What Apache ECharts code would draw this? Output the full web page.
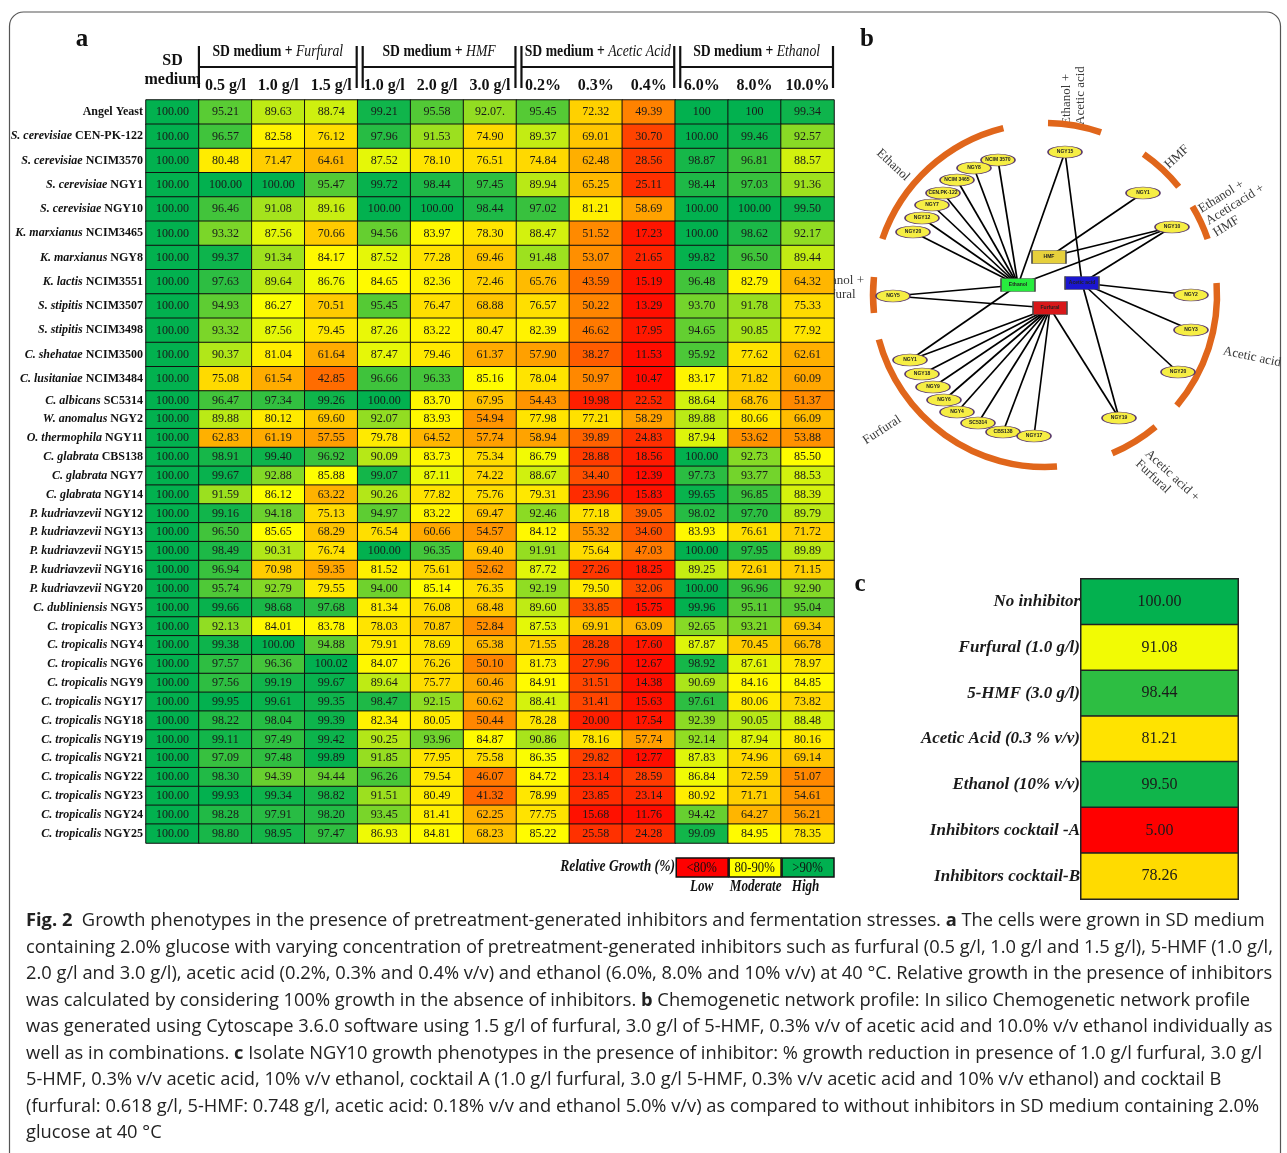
<!DOCTYPE html>
<html><head><meta charset="utf-8">
<script src="https://cdn.jsdelivr.net/npm/echarts@6/dist/echarts.min.js"></script>
<style>html,body{margin:0;padding:0;background:#fff}#main{width:1287px;height:1153px}</style>
</head><body><div id="main"></div>
<script>
// ---------------- DATA : panel a ----------------
const conditionLabels = ['SD medium','0.5 g/l','1.0 g/l','1.5 g/l','1.0 g/l','2.0 g/l','3.0 g/l','0.2%','0.3%','0.4%','6.0%','8.0%','10.0%'];
const groupTitles = ['Furfural','HMF','Acetic Acid','Ethanol'];
const groupSpans = [[1,3],[4,6],[7,9],[10,12]];
const rowSpecies = ['','S. cerevisiae','S. cerevisiae','S. cerevisiae','S. cerevisiae','K. marxianus','K. marxianus','K. lactis','S. stipitis','S. stipitis','C. shehatae','C. lusitaniae','C. albicans','W. anomalus','O. thermophila','C. glabrata','C. glabrata','C. glabrata','P. kudriavzevii','P. kudriavzevii','P. kudriavzevii','P. kudriavzevii','P. kudriavzevii','C. dubliniensis','C. tropicalis','C. tropicalis','C. tropicalis','C. tropicalis','C. tropicalis','C. tropicalis','C. tropicalis','C. tropicalis','C. tropicalis','C. tropicalis','C. tropicalis','C. tropicalis'];
const rowStrains = ['Angel Yeast','CEN-PK-122','NCIM3570','NGY1','NGY10','NCIM3465','NGY8','NCIM3551','NCIM3507','NCIM3498','NCIM3500','NCIM3484','SC5314','NGY2','NGY11','CBS138','NGY7','NGY14','NGY12','NGY13','NGY15','NGY16','NGY20','NGY5','NGY3','NGY4','NGY6','NGY9','NGY17','NGY18','NGY19','NGY21','NGY22','NGY23','NGY24','NGY25'];
const sdMedium   = [100,100,100,100,100,100,100,100,100,100,100,100,100,100,100,100,100,100,100,100,100,100,100,100,100,100,100,100,100,100,100,100,100,100,100,100];
const furfural05 = [95.21,96.57,80.48,100.00,96.46,93.32,99.37,97.63,94.93,93.32,90.37,75.08,96.47,89.88,62.83,98.91,99.67,91.59,99.16,96.50,98.49,96.94,95.74,99.66,92.13,99.38,97.57,97.56,99.95,98.22,99.11,97.09,98.30,99.93,98.28,98.80];
const furfural10 = [89.63,82.58,71.47,100.00,91.08,87.56,91.34,89.64,86.27,87.56,81.04,61.54,97.34,80.12,61.19,99.40,92.88,86.12,94.18,85.65,90.31,70.98,92.79,98.68,84.01,100.00,96.36,99.19,99.61,98.04,97.49,97.48,94.39,99.34,97.91,98.95];
const furfural15 = [88.74,76.12,64.61,95.47,89.16,70.66,84.17,86.76,70.51,79.45,61.64,42.85,99.26,69.60,57.55,96.92,85.88,63.22,75.13,68.29,76.74,59.35,79.55,97.68,83.78,94.88,100.02,99.67,99.35,99.39,99.42,99.89,94.44,98.82,98.20,97.47];
const hmf10      = [99.21,97.96,87.52,99.72,100.00,94.56,87.52,84.65,95.45,87.26,87.47,96.66,100.00,92.07,79.78,90.09,99.07,90.26,94.97,76.54,100.00,81.52,94.00,81.34,78.03,79.91,84.07,89.64,98.47,82.34,90.25,91.85,96.26,91.51,93.45,86.93];
const hmf20      = [95.58,91.53,78.10,98.44,100.00,83.97,77.28,82.36,76.47,83.22,79.46,96.33,83.70,83.93,64.52,83.73,87.11,77.82,83.22,60.66,96.35,75.61,85.14,76.08,70.87,78.69,76.26,75.77,92.15,80.05,93.96,77.95,79.54,80.49,81.41,84.81];
const hmf30      = [92.07,74.90,76.51,97.45,98.44,78.30,69.46,72.46,68.88,80.47,61.37,85.16,67.95,54.94,57.74,75.34,74.22,75.76,69.47,54.57,69.40,52.62,76.35,68.48,52.84,65.38,50.10,60.46,60.62,50.44,84.87,75.58,46.07,41.32,62.25,68.23];
const acetic02   = [95.45,89.37,74.84,89.94,97.02,88.47,91.48,65.76,76.57,82.39,57.90,78.04,54.43,77.98,58.94,86.79,88.67,79.31,92.46,84.12,91.91,87.72,92.19,89.60,87.53,71.55,81.73,84.91,88.41,78.28,90.86,86.35,84.72,78.99,77.75,85.22];
const acetic03   = [72.32,69.01,62.48,65.25,81.21,51.52,53.07,43.59,50.22,46.62,38.27,50.97,19.98,77.21,39.89,28.88,34.40,23.96,77.18,55.32,75.64,27.26,79.50,33.85,69.91,28.28,27.96,31.51,31.41,20.00,78.16,29.82,23.14,23.85,15.68,25.58];
const acetic04   = [49.39,30.70,28.56,25.11,58.69,17.23,21.65,15.19,13.29,17.95,11.53,10.47,22.52,58.29,24.83,18.56,12.39,15.83,39.05,34.60,47.03,18.25,32.06,15.75,63.09,17.60,12.67,14.38,15.63,17.54,57.74,12.77,28.59,23.14,11.76,24.28];
const ethanol6   = [100,100.00,98.87,98.44,100.00,100.00,99.82,96.48,93.70,94.65,95.92,83.17,88.64,89.88,87.94,100.00,97.73,99.65,98.02,83.93,100.00,89.25,100.00,99.96,92.65,87.87,98.92,90.69,97.61,92.39,92.14,87.83,86.84,80.92,94.42,99.09];
const ethanol8   = [100,99.46,96.81,97.03,100.00,98.62,96.50,82.79,91.78,90.85,77.62,71.82,68.76,80.66,53.62,92.73,93.77,96.85,97.70,76.61,97.95,72.61,96.96,95.11,93.21,70.45,87.61,84.16,80.06,90.05,87.94,74.96,72.59,71.71,64.27,84.95];
const ethanol10  = [99.34,92.57,88.57,91.36,99.50,92.17,89.44,64.32,75.33,77.92,62.61,60.09,51.37,66.09,53.88,85.50,88.53,88.39,89.79,71.72,89.89,71.15,92.90,95.04,69.34,66.78,78.97,84.85,73.82,88.48,80.16,69.14,51.07,54.61,56.21,78.35];
// cells printed differently in the original table: [row, column, text]
const printedAs = [[0,6,'92.07.'],[0,10,'100'],[0,11,'100']];
const legendClasses = ['<80%','80-90%','>90%'];
const legendNames = ['Low','Moderate','High'];

// ---------------- DATA : panel b (network) ----------------
const nodeLabels = ['Ethanol','Acetic acid','Furfural','HMF','NCIM 3570','NGY8','NCIM 3465','CEN.PK-122','NGY7','NGY12','NGY20','NGY15','NGY1','NGY10','NGY5','NGY2','NGY3','NGY20','NGY19','NGY1','NGY18','NGY9','NGY6','NGY4','SC5314','CBS138','NGY17'];
const nodeX = [-27,37,5,4,-47,-71,-88,-102,-113,-123,-132,20,98,127,-152,146,146,133,74,-135,-123,-112,-101,-88,-67,-42,-11];
const nodeY = [10,12,-13,38,135,127,115,102,90,77,63,143,102,68,-1,0,-35,-77,-123,-65,-79,-92,-105,-117,-128,-137,-141];
const inhibitorColors = ['#27ec3e','#1b16d0','#d8181a','#e6d03c'];
const edges = [[0,4],[0,5],[0,6],[0,7],[0,8],[0,9],[0,10],[0,11],[0,13],[0,14],[0,19],
  [1,11],[1,13],[1,15],[1,16],[1,17],[1,18],
  [3,12],[3,13],
  [2,14],[2,18],[2,19],[2,20],[2,21],[2,22],[2,23],[2,24],[2,25],[2,26]];
const arcStartDeg = [104,71,39,19,-40,-67,195,174];
const arcEndDeg   = [161,89,55,31,4,-50,274,186];
const arcRadius = 172;
const arcLabels = ['Ethanol','Ethanol +\nAcetic acid','HMF','Ethanol +\nAceticacid +\nHMF','Acetic acid','Acetic acid +\nFurfural','Furfural','Ethanol +\nFurfural'];
const arcLabelX = [-152,29,132,162,207,97,-163,-232];
const arcLabelY = [130,170,138,73,-62,-162,-135,7];
const arcLabelRot = [-43,90,43,32,-12,-43,33,0];
const arcLabelAlign = ['center','left','center','left','center','left','center','left'];

// ---------------- DATA : panel c ----------------
const ngy10Conditions = ['No inhibitor','Furfural (1.0 g/l)','5-HMF (3.0 g/l)','Acetic Acid (0.3 % v/v)','Ethanol (10% v/v)','Inhibitors cocktail -A','Inhibitors cocktail-B'];
const ngy10Growth = [100.00,91.08,98.44,81.21,99.50,5.00,78.26];

// ---------------- caption ----------------
const captionLines = [
 '{b|Fig. 2}  Growth phenotypes in the presence of pretreatment-generated inhibitors and fermentation stresses. {b|a} The cells were grown in SD medium',
 'containing 2.0% glucose with varying concentration of pretreatment-generated inhibitors such as furfural (0.5 g/l, 1.0 g/l and 1.5 g/l), 5-HMF (1.0 g/l,',
 '2.0 g/l and 3.0 g/l), acetic acid (0.2%, 0.3% and 0.4% v/v) and ethanol (6.0%, 8.0% and 10% v/v) at 40 °C. Relative growth in the presence of inhibitors',
 'was calculated by considering 100% growth in the absence of inhibitors. {b|b} Chemogenetic network profile: In silico Chemogenetic network profile',
 'was generated using Cytoscape 3.6.0 software using 1.5 g/l of furfural, 3.0 g/l of 5-HMF, 0.3% v/v of acetic acid and 10.0% v/v ethanol individually as',
 'well as in combinations. {b|c} Isolate NGY10 growth phenotypes in the presence of inhibitor: % growth reduction in presence of 1.0 g/l furfural, 3.0 g/l',
 '5-HMF, 0.3% v/v acetic acid, 10% v/v ethanol, cocktail A (1.0 g/l furfural, 3.0 g/l 5-HMF, 0.3% v/v acetic acid and 10% v/v ethanol) and cocktail B',
 '(furfural: 0.618 g/l, 5-HMF: 0.748 g/l, acetic acid: 0.18% v/v and ethanol 5.0% v/v) as compared to without inhibitors in SD medium containing 2.0%',
 'glucose at 40 °C'
];

// ---------------- build ----------------
const SERIF = '"Liberation Serif","Times New Roman",serif';
const valueColumns = [sdMedium,furfural05,furfural10,furfural15,hmf10,hmf20,hmf30,acetic02,acetic03,acetic04,ethanol6,ethanol8,ethanol10];
function printed(r, c, v) {
  for (const p of printedAs) if (p[0] === r && p[1] === c) return p[2];
  return v.toFixed(2);
}
function cells(r0, r1) {
  const out = [];
  for (let r = r0; r < r1; r++) for (let c = 0; c < valueColumns.length; c++) {
    const v = valueColumns[c][r];
    out.push({value: [c, r - r0, v], printed: printed(r, c, v)});
  }
  return out;
}
const SPLIT = 12;
function rowLabel(offset) {
  return function (val, idx) {
    const i = idx + offset;
    return rowSpecies[i] ? '{sp|' + rowSpecies[i] + '} {st|' + rowStrains[i] + '}' : '{st|' + rowStrains[i] + '}';
  };
}
const RFS = 12;
const rowRich = {
  sp: {fontFamily: SERIF, fontSize: RFS, fontStyle: 'italic', fontWeight: 'bold', color: '#111'},
  st: {fontFamily: SERIF, fontSize: RFS, fontWeight: 'bold', color: '#111'}
};
const heatBase = {
  type: 'heatmap',
  label: {show: true, fontFamily: SERIF, fontSize: 12, color: '#1a1a1a', formatter: p => p.data.printed},
  itemStyle: {borderColor: '#111', borderWidth: 1},
  emphasis: {disabled: true}
};

const chart = echarts.init(document.getElementById('main'), null, {renderer: 'canvas', width: 1287, height: 1153});
const option = {
  animation: false,
  backgroundColor: '#ffffff',
  grid: [
    {left: 146, top: 100, width: 688, height: 291},
    {left: 146, top: 391, width: 688, height: 452},
    {left: 830, top: 20, width: 457, height: 480},
    {left: 1081, top: 579, width: 157, height: 320}
  ],
  xAxis: [
    {gridIndex: 0, type: 'category', data: conditionLabels, position: 'top',
     axisLine: {show: false}, axisTick: {show: false}, splitLine: {show: false},
     axisLabel: {interval: 0, margin: 6, fontFamily: SERIF, fontSize: 16, fontWeight: 'bold', color: '#111',
       formatter: (v, i) => i === 0 ? '{sd|SD}\n{sdb|medium}' : v,
       rich: {sd: {fontFamily: SERIF, fontSize: 16, fontWeight: 'bold', color: '#111', lineHeight: 22},
              sdb: {fontFamily: SERIF, fontSize: 16, fontWeight: 'bold', color: '#111', lineHeight: 22, padding: [0, 0, 7, 0]}}}},
    {gridIndex: 1, type: 'category', data: conditionLabels, show: false},
    {gridIndex: 2, type: 'value', min: -215, max: 242, show: false},
    {gridIndex: 3, type: 'category', data: ['NGY10'], show: false}
  ],
  yAxis: [
    {gridIndex: 0, type: 'category', inverse: true, data: rowStrains.slice(0, SPLIT),
     axisLine: {show: false}, axisTick: {show: false},
     axisLabel: {interval: 0, margin: 3, fontFamily: SERIF, fontSize: RFS, fontWeight: 'bold', color: '#111', formatter: rowLabel(0), rich: rowRich}},
    {gridIndex: 1, type: 'category', inverse: true, data: rowStrains.slice(SPLIT),
     axisLine: {show: false}, axisTick: {show: false},
     axisLabel: {interval: 0, margin: 3, fontFamily: SERIF, fontSize: RFS, fontWeight: 'bold', color: '#111', formatter: rowLabel(SPLIT), rich: rowRich}},
    {gridIndex: 2, type: 'value', min: -205, max: 275, show: false},
    {gridIndex: 3, type: 'category', inverse: true, data: ngy10Conditions,
     axisLine: {show: false}, axisTick: {show: false},
     axisLabel: {interval: 0, margin: 1, fontFamily: SERIF, fontSize: 17, fontWeight: 'bold', fontStyle: 'italic', color: '#1a1a1a'}}
  ],
  visualMap: [
    {show: false, type: 'continuous', seriesIndex: [0, 1], dimension: 2, min: 1.9, max: 100.1,
     inRange: {color: ['#ff0000', '#ff1100', '#ff4000', '#ff7000', '#ffa000', '#ffd000', '#ffff00', '#00b050']}},
    {show: false, type: 'continuous', seriesIndex: [4], dimension: 2, min: 5, max: 100.1,
     inRange: {color: ['#ff0000', '#ff1c00', '#ff3900', '#ff5500', '#ff7200', '#ff8e00', '#ffaa00', '#ffc700', '#ffe300', '#ffff00', '#00b050']}}
  ],
  series: [
    Object.assign({}, heatBase, {xAxisIndex: 0, yAxisIndex: 0, data: cells(0, SPLIT)}),
    Object.assign({}, heatBase, {xAxisIndex: 1, yAxisIndex: 1, data: cells(SPLIT, rowStrains.length)}),
    {
      type: 'custom', xAxisIndex: 2, yAxisIndex: 2, silent: true, clip: false,
      data: arcStartDeg.map((s, i) => [s, arcEndDeg[i], arcRadius]),
      renderItem: function (params, api) {
        const c = api.coord([0, 0]);
        const r = api.size([api.value(2), 0])[0];
        const a1 = api.value(0) * Math.PI / 180, a2 = api.value(1) * Math.PI / 180;
        return {type: 'arc', shape: {cx: c[0], cy: c[1], r: r, startAngle: -a2, endAngle: -a1, clockwise: true},
                style: {stroke: '#e0661b', lineWidth: 6.5, fill: null, lineCap: 'butt'}};
      }
    },
    {
      type: 'graph', coordinateSystem: 'cartesian2d', xAxisIndex: 2, yAxisIndex: 2, silent: true,
      data: nodeLabels.map((n, i) => {
        const inhib = i < 4;
        return {
          id: 'n' + i, name: n, value: [nodeX[i], nodeY[i]],
          symbol: inhib ? 'rect' : 'path://M0,1 A1,1 0 1,1 2,1 A1,1 0 1,1 0,1 Z',
          symbolSize: inhib ? [34, 13] : [34, 12],
          itemStyle: inhib ? {color: inhibitorColors[i], borderColor: '#4a4a4a', borderWidth: 1}
                           : {color: '#f6ee44', borderColor: '#5b3b6b', borderWidth: 1}
        };
      }),
      links: edges.map(e => ({source: e[0], target: e[1]})),
      lineStyle: {color: '#000', width: 1.7, opacity: 1, curveness: 0},
      label: {show: true, position: 'inside', fontSize: 5, fontWeight: 'bold', fontFamily: 'Liberation Sans, Arial, sans-serif', color: '#222',
              formatter: p => p.name},
      emphasis: {disabled: true}
    },
    {
      type: 'heatmap', xAxisIndex: 3, yAxisIndex: 3,
      data: ngy10Growth.map((v, i) => [0, i, v]),
      label: {show: true, fontFamily: SERIF, fontSize: 16, color: '#1a1a1a', formatter: p => p.value[2].toFixed(2)},
      itemStyle: {borderColor: '#222', borderWidth: 1.5},
      emphasis: {disabled: true}
    }
  ]
};
chart.setOption(option);

// ---------- annotations positioned from the axes ----------
const g = [];
const colC = i => chart.convertToPixel({xAxisIndex: 0}, i);
const colW = colC(1) - colC(0);
// outer frame
g.push({type: 'rect', shape: {x: 9.5, y: 12, width: 1271, height: 1220, r: 14}, style: {fill: null, stroke: '#555', lineWidth: 1.2}});
// panel letters
[['a', 82, 40], ['b', 867, 40], ['c', 860, 585]].forEach(p => g.push({type: 'text', x: p[1], y: p[2],
  style: {text: p[0], fontFamily: SERIF, fontWeight: 'bold', fontSize: 25, fill: '#111', align: 'center', verticalAlign: 'middle'}}));
// group headers with brackets
groupSpans.forEach((sp, k) => {
  const left = colC(sp[0]) - colW / 2, right = colC(sp[1]) + colW / 2;
  const xl = left + (k === 0 ? 0 : 5), xr = right - 1;
  const line = (x1, y1, x2, y2) => g.push({type: 'line', shape: {x1, y1, x2, y2}, style: {stroke: '#111', lineWidth: 2.2}});
  line(xl, 46, xl, 88); line(xr, 46, xr, 88); line(xl, 67, xr, 67);
  g.push({type: 'text', x: (xl + xr) / 2, y: 52, scaleX: 0.83, style: {
    text: '{r|SD medium + }{it|' + groupTitles[k] + '}', align: 'center', verticalAlign: 'middle',
    rich: {r: {fontFamily: SERIF, fontSize: 16.5, fontWeight: 'bold', fill: '#111'},
           it: {fontFamily: SERIF, fontSize: 16.5, fontStyle: 'italic', fill: '#111'}}}});
});
// legend for panel a
const legColors = ['#ff0000', '#ffff00', '#00b050'];
g.push({type: 'text', x: 675, y: 867, scaleX: 0.85, style: {text: 'Relative Growth (%)', fontFamily: SERIF, fontSize: 16, fontWeight: 'bold', fontStyle: 'italic', fill: '#111', align: 'right', verticalAlign: 'middle'}});
legendClasses.forEach((t, k) => {
  const cx = colC(10 + k);
  g.push({type: 'rect', shape: {x: cx - colW / 2 + 1, y: 858, width: colW - 1, height: 19}, style: {fill: legColors[k], stroke: '#111', lineWidth: 1.5}});
  g.push({type: 'text', x: cx, y: 868, scaleX: 0.85, style: {text: t, fontFamily: SERIF, fontSize: 15, fill: '#111', align: 'center', verticalAlign: 'middle'}});
  g.push({type: 'text', x: cx + (k === 0 ? 0 : (k === 1 ? 1 : -2)), y: 887, scaleX: 0.82, style: {text: legendNames[k], fontFamily: SERIF, fontSize: 16, fontWeight: 'bold', fontStyle: 'italic', fill: '#111', align: 'center', verticalAlign: 'middle'}});
});
// arc labels of the network
arcLabels.forEach((t, k) => {
  const p = chart.convertToPixel({gridIndex: 2}, [arcLabelX[k], arcLabelY[k]]);
  g.push({type: 'text', x: p[0], y: p[1], rotation: arcLabelRot[k] * Math.PI / 180,
    style: {text: t, fontFamily: SERIF, fontSize: 13, fill: '#3a3a3a', align: arcLabelAlign[k], verticalAlign: 'middle', lineHeight: 14}});
});
// caption
const cv = document.createElement('canvas').getContext('2d');
const CAP = '"Open Sans","Noto Sans",sans-serif';
cv.font = '18px ' + CAP;
const w1 = cv.measureText(captionLines[0].replace(/\{b\|([^}]*)\}/g, '$1')).width;
let capSize = 18 * 1236 / w1;
capSize = Math.max(14, Math.min(20, capSize));
captionLines.forEach((t, k) => {
  g.push({type: 'text', x: 26, y: 921 + k * 26.5, style: {text: t, fontFamily: CAP, fontSize: capSize, fill: '#222', align: 'left', verticalAlign: 'middle',
    rich: {b: {fontFamily: CAP, fontSize: capSize, fontWeight: 'bold', fill: '#222'}}}});
});
chart.setOption({graphic: {elements: g}});
</script>
</body></html>
